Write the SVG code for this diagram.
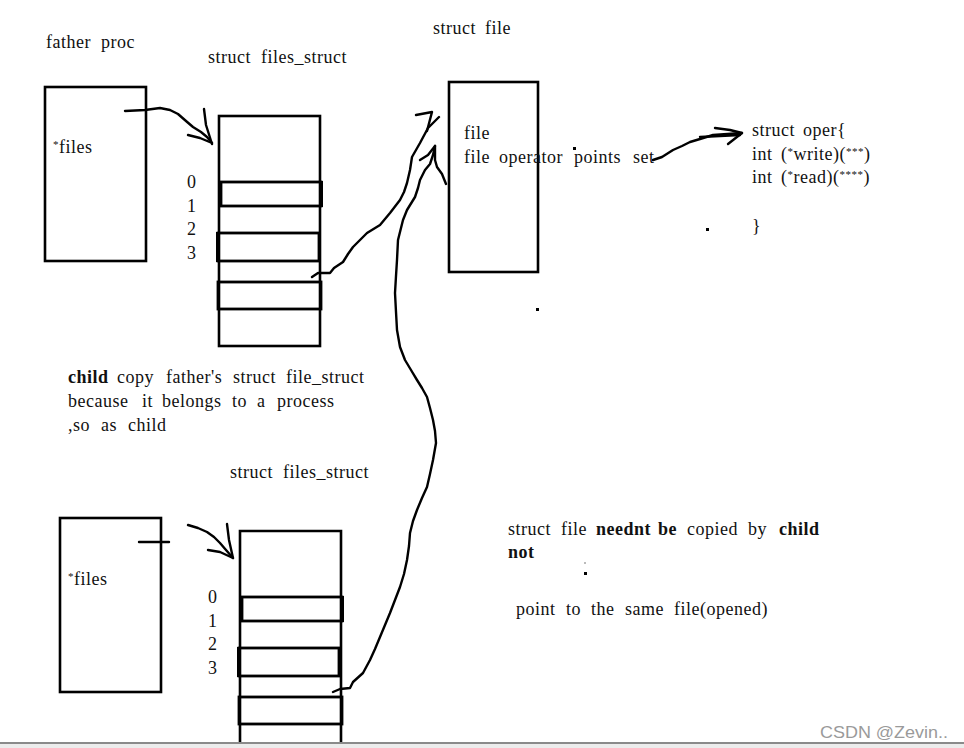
<svg xmlns="http://www.w3.org/2000/svg" width="964" height="748" viewBox="0 0 964 748">
<style>
  text { font-family: "Liberation Serif", "Times New Roman", serif; font-size: 18px; fill: #111; letter-spacing: 0.5px; }
  .b { font-weight: bold; }
  .s { font-size: 11px; }
  .box { fill: none; stroke: #000; stroke-width: 2.6; }
  .slot { fill: none; stroke: #000; stroke-width: 2.8; }
  .thick { stroke: #000; stroke-width: 4; fill: none; }
  .con { fill: none; stroke: #000; stroke-width: 2.4; stroke-linejoin: round; stroke-linecap: round; }
  .wm { font-family: "Liberation Sans", Arial, sans-serif; font-size: 17px; fill: #9a9a9a; letter-spacing: 0; }
</style>
<rect x="0" y="0" width="964" height="748" fill="#fff"/>

<g id="labels">
  <text y="48"><tspan x="46">father</tspan><tspan x="101">proc</tspan></text>
  <text y="63"><tspan x="208">struct</tspan><tspan x="261">files_struct</tspan></text>
  <text y="34"><tspan x="433">struct</tspan><tspan x="485">file</tspan></text>
  <text y="478"><tspan x="230">struct</tspan><tspan x="283">files_struct</tspan></text>
</g>

<g id="father-proc">
  <rect class="box" x="45" y="87" width="101" height="174"/>
  <text x="53" y="153"><tspan class="s" dy="-5">*</tspan><tspan dy="5">files</tspan></text>
</g>

<g id="father-files-struct">
  <rect class="box" x="219" y="116" width="101" height="230"/>
  <rect class="slot" x="221" y="182" width="100" height="24"/>
  <line class="thick" x1="321" y1="181" x2="321" y2="207"/>
  <rect class="slot" x="218" y="233" width="101" height="28"/>
  <line class="thick" x1="218" y1="232" x2="218" y2="262"/>
  <rect class="slot" x="218" y="282" width="103" height="27" stroke-width="3.4"/>
  <text x="187" y="188">0</text>
  <text x="187" y="212">1</text>
  <text x="187" y="235">2</text>
  <text x="187" y="259">3</text>
</g>

<g id="struct-file">
  <rect class="box" x="449" y="82" width="89" height="190"/>
  <text x="464" y="139">file</text>
  <text y="163"><tspan x="464">file</tspan><tspan x="499">operator</tspan><tspan x="574">points</tspan><tspan x="633">set</tspan></text>
</g>

<g id="struct-oper">
  <text y="136"><tspan x="752">struct</tspan><tspan x="803">oper{</tspan></text>
  <text y="160" letter-spacing="0"><tspan x="752">int</tspan><tspan x="781">(</tspan><tspan class="s" dy="-5">*</tspan><tspan dy="5">write)(</tspan><tspan class="s" dy="-5">***</tspan><tspan dy="5">)</tspan></text>
  <text y="183" letter-spacing="0"><tspan x="752">int</tspan><tspan x="781">(</tspan><tspan class="s" dy="-5">*</tspan><tspan dy="5">read)(</tspan><tspan class="s" dy="-5">****</tspan><tspan dy="5">)</tspan></text>
  <text x="752" y="232">}</text>
</g>

<g id="child-note">
  <text y="383"><tspan x="68" class="b">child</tspan><tspan x="117">copy</tspan><tspan x="166">father's</tspan><tspan x="233">struct</tspan><tspan x="286">file_struct</tspan></text>
  <text y="407"><tspan x="68">because</tspan><tspan x="142">it</tspan><tspan x="162">belongs</tspan><tspan x="232">to</tspan><tspan x="257">a</tspan><tspan x="277">process</tspan></text>
  <text y="431"><tspan x="68">,so</tspan><tspan x="101">as</tspan><tspan x="128">child</tspan></text>
</g>

<g id="child-proc">
  <rect class="box" x="60" y="518" width="101" height="174"/>
  <line class="con" x1="139" y1="542" x2="169" y2="542" stroke-width="2.8"/>
  <text x="68" y="585"><tspan class="s" dy="-5">*</tspan><tspan dy="5">files</tspan></text>
</g>

<g id="child-files-struct">
  <path class="box" d="M240,743 L240,531 L341,531 L341,743"/>
  <rect class="slot" x="242" y="597" width="100" height="24"/>
  <line class="thick" x1="342" y1="596" x2="342" y2="622"/>
  <rect class="slot" x="239" y="648" width="100" height="28"/>
  <line class="thick" x1="239" y1="647" x2="239" y2="677"/>
  <rect class="slot" x="239" y="697" width="103" height="27" stroke-width="3.4"/>
  <text x="208" y="603">0</text>
  <text x="208" y="627">1</text>
  <text x="208" y="650">2</text>
  <text x="208" y="674">3</text>
</g>

<g id="share-note">
  <text y="535"><tspan x="508">struct</tspan><tspan x="561">file</tspan><tspan x="596" class="b">neednt</tspan><tspan x="658" class="b">be</tspan><tspan x="687">copied</tspan><tspan x="748">by</tspan><tspan x="779" class="b">child</tspan></text>
  <text x="508" y="558" class="b">not</text>
  <text y="615"><tspan x="516">point</tspan><tspan x="566">to</tspan><tspan x="591">the</tspan><tspan x="625">same</tspan><tspan x="674">file(opened)</tspan></text>
</g>

<g id="connectors">
  <!-- father *files -> files_struct -->
  <path class="con" d="M125,111 L145,110 L160,108 L170,110 L178,114 L186,121 L193,127 L201,132 L207,137 L212,143"/>
  <path class="con" d="M204,109 L206,125 L212,144 M188,135 L200,138 L212,143"/>
  <!-- child *files -> files_struct -->
  <path class="con" d="M188,525 L198,528 L207,532 L214,537 L220,543 L226,550 L233,558"/>
  <path class="con" d="M227,524 L229,540 L233,558 M208,550 L220,552 L233,558"/>
  <!-- father fd -> struct file -->
  <path class="con" d="M312,277 L318,273 L330,273 L334,268 L343,262 L348,254 L353,247 L360,240 L367,233 L380,225 L385,219 L390,213 L400,200 L404,192 L407,183 L410,170 L412,157 L420,143 L428,128 L433,123 L439,117"/>
  <path class="con" d="M416,115 L432,112 L427,131"/>
  <!-- child fd -> struct file -->
  <path class="con" d="M333,692 L340,689 L350,688 L353,682 L363,673 L370,660 L375,649 L380,637 L385,625 L390,613 L395,600 L400,587 L404,574 L407,560 L409,546 L410,533 L413,521 L417,510 L422,498 L427,487 L430,474 L433,460 L436,443 L435,431 L433,420 L430,408 L427,397 L422,388 L417,380 L411,370 L405,360 L400,347 L397,330 L396,312 L395,293 L396,276 L397,260 L398,240 L403,220 L407,210 L415,197 L418,188 L420,180 L425,170 L430,164 L433,155 L435,146"/>
  <path class="con" d="M420,160 L428,155 L435,146 M435,146 L435,160 L437,167 L442,174 L446,184"/>
  <!-- operator set -> struct oper -->
  <path class="con" d="M653,160 L662,157 L673,150 L682,146 L690,142 L700,139 L713,135 L742,133"/>
  <path class="con" d="M700,137 L740,135"/>
  <path class="con" d="M715,128 L730,130 L742,133 L728,144"/>
</g>

<g id="specks" fill="#000">
  <rect x="573" y="147" width="3" height="3"/>
  <rect x="706" y="228" width="3" height="3"/>
  <rect x="536" y="308" width="3" height="3"/>
  <rect x="584" y="572" width="3" height="3"/>
  <rect x="584" y="562" width="2" height="2" fill="#bbb"/>
</g>

<g id="footer">
  <rect x="0" y="742" width="964" height="2" fill="#8a8a8a"/>
  <rect x="0" y="744" width="964" height="4" fill="#ececec"/>
  <text class="wm" x="820" y="738" textLength="128" lengthAdjust="spacingAndGlyphs">CSDN @Zevin..</text>
</g>
</svg>
